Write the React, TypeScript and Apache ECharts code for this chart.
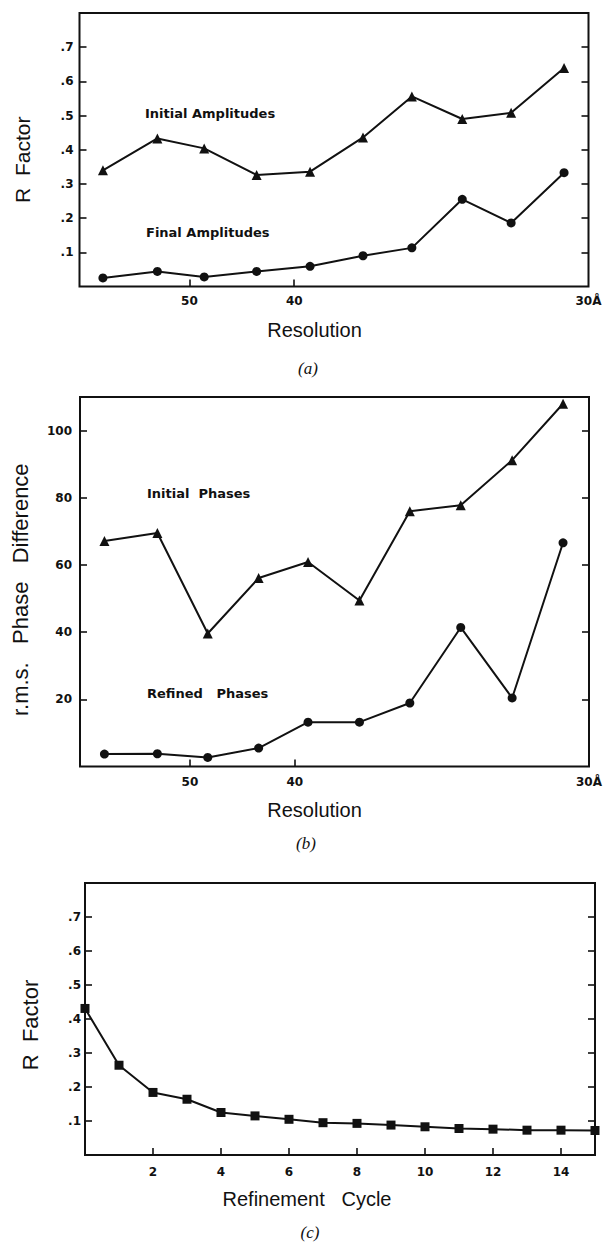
import React, { useEffect, useRef } from "react";
import * as echarts from "echarts";

// ---------- data ----------
// x positions of the resolution shells, in units of (30 Å / d)^3 (axis is linear in 1/d^3)
const shellPosA = [0.046, 0.153, 0.245, 0.348, 0.453, 0.557, 0.653, 0.752, 0.848, 0.952];
const initialAmplitudesR = [0.34, 0.433, 0.404, 0.326, 0.336, 0.436, 0.556, 0.49, 0.508, 0.639];
const finalAmplitudesR = [0.025, 0.044, 0.028, 0.044, 0.059, 0.09, 0.113, 0.255, 0.186, 0.333];

const shellPosB = [0.048, 0.152, 0.251, 0.351, 0.448, 0.549, 0.648, 0.748, 0.849, 0.949];
const initialPhasesDeg = [67.1, 69.5, 39.6, 56.1, 60.9, 49.4, 76.0, 77.8, 91.2, 108.0];
const refinedPhasesDeg = [3.7, 3.8, 2.7, 5.5, 13.2, 13.2, 18.9, 41.4, 20.4, 66.6];

const refinementCycles = [0, 1, 2, 3, 4, 5, 6, 7, 8, 9, 10, 11, 12, 13, 14, 15];
const cycleRFactor = [0.431, 0.264, 0.184, 0.164, 0.125, 0.115, 0.105, 0.095, 0.093, 0.088, 0.083, 0.078, 0.076, 0.073, 0.073, 0.072];

// tick labels
const resolutionTicksA = [50, 40, 30]; // Å
const rFactorTicks = [0.1, 0.2, 0.3, 0.4, 0.5, 0.6, 0.7];
const phaseTicks = [20, 40, 60, 80, 100];
const cycleTicks = [2, 4, 6, 8, 10, 12, 14];

const INK = "#111";
const TICK_FONT = "DejaVu Sans";
const NAME_FONT = "Liberation Sans";

const resToPos = (d: number) => Math.pow(30 / d, 3);
const resTickPos = resolutionTicksA.map(resToPos);
const resLabel = (v: number) => {
  const i = resTickPos.findIndex((p) => Math.abs(p - v) < 1e-6);
  if (i < 0) return "";
  const d = resolutionTicksA[i];
  return d === 30 ? "30Å" : String(d);
};
const rLabel = (v: number) => "." + Math.round(v * 10);

function zip(xs: number[], ys: number[]) {
  return xs.map((x, i) => [x, ys[i]]);
}

export default function App() {
  const ref = useRef<HTMLDivElement>(null);
  useEffect(() => {
    if (!ref.current) return;
    const chart = echarts.init(ref.current, null, { renderer: "svg" });

    const tickLabel = (margin: number, extra: any = {}) => ({
      color: INK,
      fontFamily: TICK_FONT,
      fontWeight: "bold",
      fontSize: 12,
      margin,
      ...extra,
    });
    const tick = (values: number[]) => ({
      show: true,
      inside: true,
      length: 7,
      lineStyle: { color: INK, width: 1.6 },
      customValues: values,
    });
    const nameStyle = (size: number, padding: number[]) => ({
      color: INK,
      fontFamily: NAME_FONT,
      fontSize: size,
      padding,
    });

    const grids = [
      { left: 79.5, width: 509, top: 13, height: 273.5 },
      { left: 80, width: 509, top: 397, height: 369.5 },
      { left: 85, width: 510, top: 883, height: 272 },
    ].map((g) => ({ ...g, show: true, borderColor: INK, borderWidth: 2, backgroundColor: "transparent" }));

    const xAxis: any[] = [
      {
        gridIndex: 0, type: "value", min: 0, max: 1, position: "bottom",
        axisLine: { show: false }, splitLine: { show: false },
        axisTick: tick(resTickPos.slice(0, 2)),
        axisLabel: { ...tickLabel(8), customValues: resTickPos, formatter: resLabel },
        name: "Resolution", nameLocation: "middle", nameGap: 33,
        nameTextStyle: nameStyle(20, [0, 39, 0, 0]),
      },
      {
        gridIndex: 1, type: "value", min: 0, max: 1, position: "bottom",
        axisLine: { show: false }, splitLine: { show: false },
        axisTick: tick(resTickPos.slice(0, 2)),
        axisLabel: { ...tickLabel(9), customValues: resTickPos, formatter: resLabel },
        name: "Resolution", nameLocation: "middle", nameGap: 33,
        nameTextStyle: nameStyle(20, [0, 40, 0, 0]),
      },
      {
        gridIndex: 2, type: "value", min: 0, max: 15, position: "bottom",
        axisLine: { show: false }, splitLine: { show: false },
        axisTick: tick(cycleTicks),
        axisLabel: { ...tickLabel(11), customValues: cycleTicks },
        name: "Refinement   Cycle", nameLocation: "middle", nameGap: 34,
        nameTextStyle: nameStyle(20, [0, 66, 0, 0]),
      },
    ];

    const yPair = (gridIndex: number, max: number, ticks: number[], fmt: any, margin: number, name: string, nameGap: number, nameSize: number, namePad: number[]) => [
      {
        gridIndex, type: "value", min: 0, max, position: "left",
        axisLine: { show: false }, splitLine: { show: false },
        axisTick: tick(ticks),
        axisLabel: { ...tickLabel(margin), customValues: ticks, formatter: fmt },
        name, nameLocation: "middle", nameGap,
        nameTextStyle: nameStyle(nameSize, namePad),
      },
      {
        gridIndex, type: "value", min: 0, max, position: "right",
        axisLine: { show: false }, splitLine: { show: false },
        axisTick: tick(ticks),
        axisLabel: { show: false },
      },
    ];

    const yAxis: any[] = [
      ...yPair(0, 0.8, rFactorTicks, rLabel, 6, "R  Factor", 47, 21, [0, 20, 0, 0]),
      ...yPair(1, 110, phaseTicks, (v: number) => String(v), 8, "r.m.s.   Phase   Difference", 49, 22, [0, 16, 0, 0]),
      ...yPair(2, 0.8, rFactorTicks, rLabel, 4, "R  Factor", 44, 22, [0, 12, 0, 0]),
    ];

    const line = (name: string, xi: number, yi: number, data: number[][], symbol: string, size: number) => ({
      name, type: "line", xAxisIndex: xi, yAxisIndex: yi, data,
      symbol, symbolSize: size, showSymbol: true,
      lineStyle: { color: INK, width: 2 },
      itemStyle: { color: INK, borderWidth: 0 },
      z: 5,
    });

    const series = [
      line("Initial Amplitudes", 0, 0, zip(shellPosA, initialAmplitudesR), "triangle", 10),
      line("Final Amplitudes", 0, 0, zip(shellPosA, finalAmplitudesR), "circle", 9),
      line("Initial Phases", 1, 2, zip(shellPosB, initialPhasesDeg), "triangle", 10),
      line("Refined Phases", 1, 2, zip(shellPosB, refinedPhasesDeg), "circle", 9),
      line("R Factor vs Cycle", 2, 4, zip(refinementCycles, cycleRFactor), "rect", 9),
    ];

    const note = (text: string, x: number, y: number) => ({
      type: "text", x, y,
      style: { text, fill: INK, font: `bold 13px "${TICK_FONT}"`, textAlign: "left", textVerticalAlign: "middle" },
    });
    const panel = (text: string, x: number, y: number) => ({
      type: "text", x, y,
      style: { text, fill: INK, font: `italic 17px "Liberation Serif"`, textAlign: "center", textVerticalAlign: "middle" },
    });

    chart.setOption({
      animation: false,
      backgroundColor: "#fff",
      grid: grids,
      xAxis,
      yAxis,
      series,
      graphic: [
        note("Initial Amplitudes", 145, 113),
        note("Final Amplitudes", 146, 232),
        note("Initial  Phases", 147, 493),
        note("Refined   Phases", 147, 693),
        panel("(a)", 308, 368),
        panel("(b)", 306, 843),
        panel("(c)", 310, 1232),
      ],
    });
    return () => chart.dispose();
  }, []);

  return <div ref={ref} style={{ position: "absolute", left: 0, top: 0, width: 607, height: 1244 }} />;
}
